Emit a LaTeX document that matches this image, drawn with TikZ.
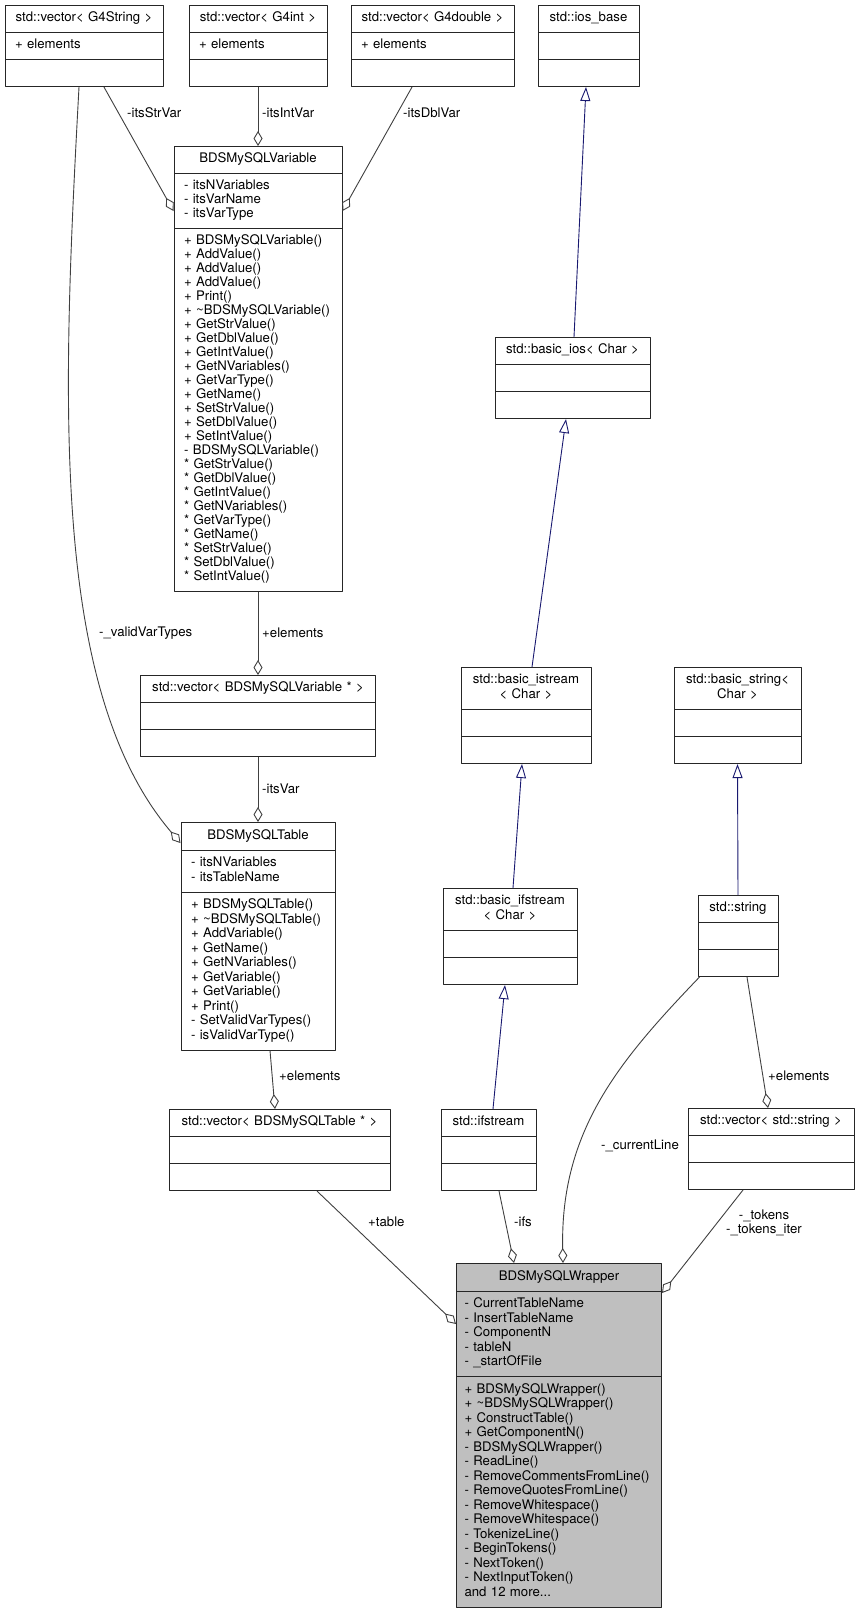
\documentclass[tikz,border=0pt]{standalone}
\usepackage{fontspec}
\setmainfont{TeX Gyre Heros}
\usetikzlibrary{shapes.multipart,arrows.meta}
\newcommand\umlsize[1]{\fontsize{13.2}{#1}\selectfont\hyphenpenalty=10000\relax}
\newcommand\umlrows[1]{\strut#1\strut}
\newcommand\umltitle[1]{\noindent\makebox[\hsize]{\strut#1}}
\definecolor{grey25}{HTML}{404040}
\definecolor{grey75}{HTML}{BFBFBF}
\definecolor{midblue}{HTML}{191970}
\begin{document}
\begin{tikzpicture}[x=1pt, y=-1pt, line join=round,
	classbox/.style={rectangle split, rectangle split parts=3, draw=black!85, line width=1pt, fill=white, inner xsep=10pt, inner ysep=6pt, anchor=north, align=left, font=\umlsize{14}},
	agg/.style={draw=grey25, line width=0.9pt, -{Diamond[open,length=15pt,width=9pt]}},
	inh/.style={draw=midblue, line width=0.9pt, -{Triangle[open,length=14pt,width=10pt]}},
	lbl/.style={inner sep=0pt, anchor=west, font=\umlsize{14}}]
	\path[use as bounding box, fill=white] (0,0) rectangle (860,1609);
	% classes
	\node[classbox, text width=138pt] (vecstr) at (84,5) {\umltitle{std::vector< G4String >}\nodepart{two}\umlrows{+ elements}\nodepart{three}\strut};
	\node[classbox, text width=118pt] (vecint) at (258,5) {\umltitle{std::vector< G4int >}\nodepart{two}\umlrows{+ elements}\nodepart{three}\strut};
	\node[classbox, text width=143pt] (vecdbl) at (432.5,5) {\umltitle{std::vector< G4double >}\nodepart{two}\umlrows{+ elements}\nodepart{three}\strut};
	\node[classbox, text width=81pt] (iosbase) at (588.5,5) {\umltitle{std::ios\_base}\nodepart{two}\strut\nodepart{three}\strut};
	\node[classbox, text width=148pt] (var) at (258,146) {\umltitle{BDSMySQLVariable}\nodepart{two}\umlrows{- itsNVariables\\- itsVarName\\- itsVarType}\nodepart{three}\umlrows{+ BDSMySQLVariable()\\+ AddValue()\\+ AddValue()\\+ AddValue()\\+ Print()\\+ \textasciitilde BDSMySQLVariable()\\+ GetStrValue()\\+ GetDblValue()\\+ GetIntValue()\\+ GetNVariables()\\+ GetVarType()\\+ GetName()\\+ SetStrValue()\\+ SetDblValue()\\+ SetIntValue()\\- BDSMySQLVariable()\\{}* GetStrValue()\\{}* GetDblValue()\\{}* GetIntValue()\\{}* GetNVariables()\\{}* GetVarType()\\{}* GetName()\\{}* SetStrValue()\\{}* SetDblValue()\\{}* SetIntValue()}};
	\node[classbox, text width=135pt] (basicios) at (572.5,337) {\umltitle{std::basic\_ios< Char >}\nodepart{two}\strut\nodepart{three}\strut};
	\node[classbox, text width=215pt] (vecvarptr) at (258,675) {\umltitle{std::vector< BDSMySQLVariable * >}\nodepart{two}\strut\nodepart{three}\strut};
	\node[classbox, text width=110pt] (basicistream) at (526,667) {\umltitle{std::basic\_istream}\\\umltitle{< Char >}\nodepart{two}\strut\nodepart{three}\strut};
	\node[classbox, text width=107pt] (basicstring) at (737.5,667) {\umltitle{std::basic\_string<}\\\umltitle{Char >}\nodepart{two}\strut\nodepart{three}\strut};
	\node[classbox, text width=134pt, font=\umlsize{14.5}] (table) at (258,822) {\umltitle{BDSMySQLTable}\nodepart{two}\umlrows{- itsNVariables\\- itsTableName}\nodepart{three}\umlrows{+ BDSMySQLTable()\\+ \textasciitilde BDSMySQLTable()\\+ AddVariable()\\+ GetName()\\+ GetNVariables()\\+ GetVariable()\\+ GetVariable()\\+ Print()\\- SetValidVarTypes()\\- isValidVarType()}};
	\node[classbox, text width=114pt] (basicifstream) at (510,888) {\umltitle{std::basic\_ifstream}\\\umltitle{< Char >}\nodepart{two}\strut\nodepart{three}\strut};
	\node[classbox, text width=60pt] (string) at (738,895) {\umltitle{std::string}\nodepart{two}\strut\nodepart{three}\strut};
	\node[classbox, text width=201pt] (vectableptr) at (279.5,1109) {\umltitle{std::vector< BDSMySQLTable * >}\nodepart{two}\strut\nodepart{three}\strut};
	\node[classbox, text width=75pt] (ifstream) at (488.5,1109) {\umltitle{std::ifstream}\nodepart{two}\strut\nodepart{three}\strut};
	\node[classbox, text width=146pt] (vecstrstr) at (771,1108) {\umltitle{std::vector< std::string >}\nodepart{two}\strut\nodepart{three}\strut};
	\node[classbox, text width=189pt, inner xsep=8pt, fill=grey75, font=\umlsize{14.5}] (wrapper) at (559,1263) {\umltitle{BDSMySQLWrapper}\nodepart{two}\umlrows{- CurrentTableName\\- InsertTableName\\- ComponentN\\- tableN\\- \_startOfFile}\nodepart{three}\umlrows{+ BDSMySQLWrapper()\\+ \textasciitilde BDSMySQLWrapper()\\+ ConstructTable()\\+ GetComponentN()\\- BDSMySQLWrapper()\\- ReadLine()\\- RemoveCommentsFromLine()\\- RemoveQuotesFromLine()\\- RemoveWhitespace()\\- RemoveWhitespace()\\- TokenizeLine()\\- BeginTokens()\\- NextToken()\\- NextInputToken()\\and 12 more...}};
	% edges
	\draw[agg] ([xshift=20pt]vecstr.south) -- ([yshift=-65pt]var.north west);
	\draw[agg] (vecint.south) -- (var.north);
	\draw[agg] ([xshift=-20.5pt]vecdbl.south) -- ([yshift=-65pt]var.north east);
	\draw[agg] (var.south) -- (vecvarptr.north);
	\draw[agg] (vecvarptr.south) -- (table.north);
	\draw[agg] ([xshift=-5pt]vecstr.south) .. controls (62,400) and (50,690) .. ([yshift=-21pt]table.north west);
	\draw[agg] ([xshift=12pt]table.south) -- ([xshift=-4.5pt]vectableptr.north);
	\draw[agg] ([xshift=9pt]string.south) -- ([xshift=-3pt]vecstrstr.north);
	\draw[agg] ([xshift=37.5pt]vectableptr.south) -- ([yshift=-61pt]wrapper.north west);
	\draw[agg] ([xshift=10.5pt]ifstream.south) -- ([xshift=-45pt]wrapper.north);
	\draw[agg] ([xshift=2pt]string.south west) .. controls (620,1060) and (560,1130) .. ([xshift=4pt]wrapper.north);
	\draw[agg] ([xshift=-28pt]vecstrstr.south) -- ([yshift=-30pt]wrapper.north east);
	\draw[inh] ([xshift=1.5pt]basicios.north) -- ([xshift=-2.5pt]iosbase.south);
	\draw[inh] ([xshift=6pt]basicistream.north) -- ([xshift=-6.5pt]basicios.south);
	\draw[inh] ([xshift=3pt]basicifstream.north) -- ([xshift=-4pt]basicistream.south);
	\draw[inh] ([xshift=4.5pt]ifstream.north) -- ([xshift=-5pt]basicifstream.south);
	\draw[inh] (string.north) -- (basicstring.south);
	% edge labels
	\node[lbl] (lstrvar) at (127,113) {-itsStrVar};
	\node[lbl] (lintvar) at (262,113) {-itsIntVar};
	\node[lbl] (ldblvar) at (403,113) {-itsDblVar};
	\node[lbl] (lvalid) at (99,633) {-\_validVarTypes};
	\node[lbl] (lvarelem) at (262,633) {+elements};
	\node[lbl] (litsvar) at (262,789) {-itsVar};
	\node[lbl] (ltabelem) at (279,1076) {+elements};
	\node[lbl] (lstrelem) at (768,1076) {+elements};
	\node[lbl] (lcurline) at (601,1146) {-\_currentLine};
	\node[lbl] (ltable) at (368,1222) {+table};
	\node[lbl] (lifs) at (514,1222) {-ifs};
	\node[lbl, anchor=center, align=center] (ltokens) at (764,1223) {-\_tokens\\-\_tokens\_iter};
\end{tikzpicture}
\end{document}
